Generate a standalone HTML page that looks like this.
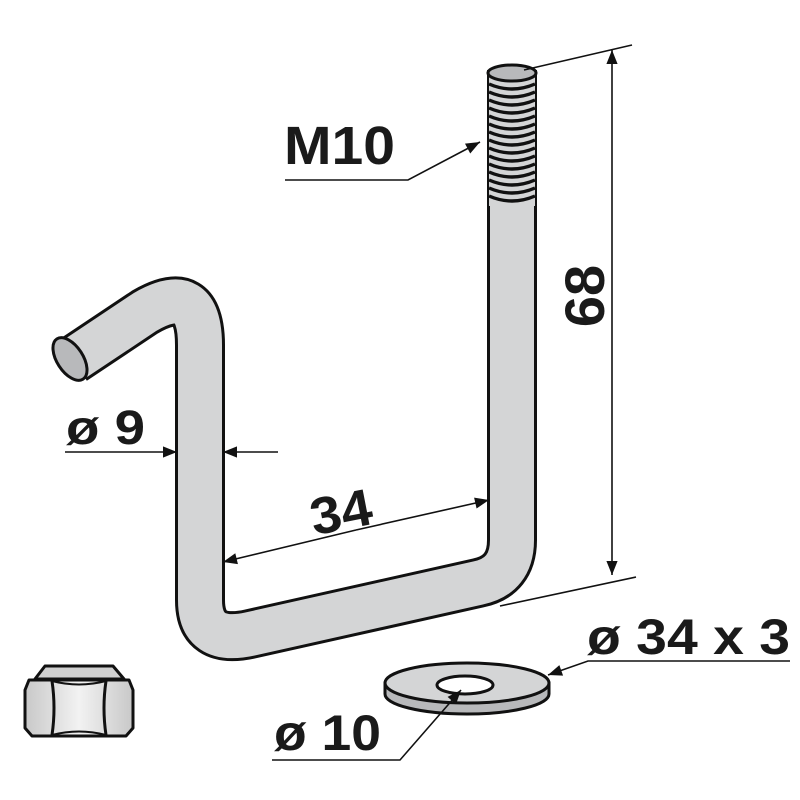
<!DOCTYPE html>
<html><head><meta charset="utf-8"><style>
html,body{margin:0;padding:0;background:#fff;}
svg{display:block}
text{font-family:"Liberation Sans",sans-serif;font-weight:bold;fill:#1a1a1a}
</style></head><body>
<svg width="800" height="800" viewBox="0 0 800 800" xmlns="http://www.w3.org/2000/svg">
<defs>
<marker id="ar" viewBox="0 0 10 10" refX="10" refY="5" markerWidth="26" markerHeight="14" markerUnits="userSpaceOnUse" orient="auto">
<path d="M0,1 L10,5 L0,9 Z" fill="#111"/></marker>
<linearGradient id="ng" x1="0" x2="1" y1="0" y2="0">
<stop offset="0" stop-color="#c8c8c8"/><stop offset="0.5" stop-color="#f2f2f2"/><stop offset="1" stop-color="#c8c8c8"/></linearGradient>
</defs>
<g fill="none" stroke-linejoin="round">
<path d="M73,360 L145,312 Q200,280 200,345 L200,600 Q200,645 250,634 L478,583 Q512,576 512,540 L512,70" stroke="#111" stroke-width="50"/>
<path d="M73,360 L145,312 Q200,280 200,345 L200,600 Q200,645 250,634 L478,583 Q512,576 512,540 L512,70" stroke="#d4d5d6" stroke-width="44"/>
</g>
<ellipse cx="70" cy="359" rx="13" ry="24" transform="rotate(-33 70 359)" fill="#b8b9bb" stroke="#111" stroke-width="3"/>
<rect x="489" y="72" width="46" height="134" fill="#d4d5d6"/>
<g stroke="#111" stroke-width="3.4" fill="none">
<path d="M489,84 Q512,94 535,84"/><path d="M489,92 Q512,102 535,92"/><path d="M489,100 Q512,110 535,100"/>
<path d="M489,108 Q512,118 535,108"/><path d="M489,116 Q512,126 535,116"/><path d="M489,124 Q512,134 535,124"/>
<path d="M489,132 Q512,142 535,132"/><path d="M489,140 Q512,150 535,140"/><path d="M489,148 Q512,158 535,148"/>
<path d="M489,156 Q512,166 535,156"/><path d="M489,164 Q512,174 535,164"/><path d="M489,172 Q512,182 535,172"/>
<path d="M489,180 Q512,190 535,180"/><path d="M489,188 Q512,198 535,188"/><path d="M489,196 Q512,206 535,196"/>
</g>
<ellipse cx="512" cy="73" rx="24" ry="8" fill="#b8b9bb" stroke="#111" stroke-width="3"/>
<g stroke="#111" stroke-width="1.6" fill="none">
<line x1="524" y1="70" x2="632" y2="45"/>
<line x1="500" y1="606" x2="636" y2="577"/>
<line x1="612" y1="300" x2="612" y2="50" marker-end="url(#ar)"/>
<line x1="612" y1="300" x2="612" y2="575" marker-end="url(#ar)"/>
<polyline points="285,180 408,180 480,142" marker-end="url(#ar)"/>
<line x1="65" y1="452" x2="177" y2="452" marker-end="url(#ar)"/>
<line x1="278" y1="452" x2="223" y2="452" marker-end="url(#ar)"/>
<line x1="356" y1="530" x2="223" y2="562" marker-end="url(#ar)"/>
<line x1="356" y1="530" x2="489" y2="500" marker-end="url(#ar)"/>
<polyline points="790,661 588,661 548,675" marker-end="url(#ar)"/>
</g>
<path d="M385,683 L385,694 A82,20 0 0 0 549,694 L549,683 Z" fill="#b8b9bb" stroke="#111" stroke-width="3"/>
<ellipse cx="467" cy="683" rx="82" ry="20" fill="#d4d5d6" stroke="#111" stroke-width="3"/>
<ellipse cx="465" cy="685" rx="28" ry="9" fill="#fff" stroke="#111" stroke-width="3"/>
<polyline points="272,760 400,760 461,690" fill="none" stroke="#111" stroke-width="1.6" marker-end="url(#ar)"/>
<path d="M35,679 L45,666 L113,666 L124,679 Z" fill="#d0d0d0" stroke="#111" stroke-width="3" stroke-linejoin="round"/>
<path d="M29,680 L129,680 L133,690 L133,728 L126,736 L32,736 L25,728 L25,690 Z" fill="url(#ng)" stroke="#111" stroke-width="3" stroke-linejoin="round"/>
<path d="M52,681 Q56,708 52,735 M106,681 Q102,708 106,735" stroke="#111" stroke-width="3" fill="none"/>
<path d="M52,681 Q79,688 106,681 M52,735 Q79,728 106,735" stroke="#111" stroke-width="2" fill="none"/>
<text x="284" y="164" font-size="54" textLength="111" lengthAdjust="spacingAndGlyphs">M10</text>
<text x="66" y="444" font-size="48" textLength="79" lengthAdjust="spacingAndGlyphs">ø 9</text>
<text x="310" y="530" font-size="52" transform="rotate(-11 340 512)" textLength="62" lengthAdjust="spacingAndGlyphs">34</text>
<text font-size="56" transform="translate(604,296) rotate(-90)" text-anchor="middle">68</text>
<text x="587" y="654" font-size="50" textLength="203" lengthAdjust="spacingAndGlyphs">ø 34 x 3</text>
<text x="274" y="750" font-size="50" textLength="107" lengthAdjust="spacingAndGlyphs">ø 10</text>
</svg>
</body></html>
